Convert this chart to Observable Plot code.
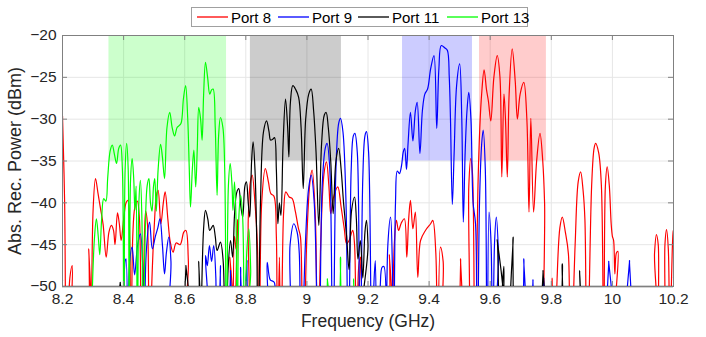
<!DOCTYPE html>
<html><head><meta charset="utf-8">
<script src="https://cdn.jsdelivr.net/npm/d3@7"></script>
<script src="https://cdn.jsdelivr.net/npm/@observablehq/plot@0.6"></script>
<style>
body{margin:0;background:#fff;}
#wrap{position:relative;width:706px;height:337px;font-family:"Liberation Sans",Arial,sans-serif;}
#legend{position:absolute;left:191px;top:7px;width:337px;height:20px;border:1px solid #a0a0a0;background:#fff;font-size:15px;color:#000;box-sizing:border-box;}
#legend .it{position:absolute;top:0;height:18px;display:flex;align-items:center;white-space:nowrap;}
#legend svg{margin-right:2px;}
</style></head>
<body><div id="wrap"><div id="legend"></div></div>
<script>
const xTicks = [8.2, 8.4, 8.6, 8.8, 9, 9.2, 9.4, 9.6, 9.8, 10, 10.2];
const yTicks = [-50, -45, -40, -35, -30, -25, -20];
const portNames = ["Port 8", "Port 9", "Port 11", "Port 13"];
const portColors = ["#ff0000", "#0000ff", "#000000", "#00ff00"];

const bandPort = ["Port 13", "Port 11", "Port 9", "Port 8"];
const bandStart = [8.352, 8.815, 9.313, 9.565];
const bandEnd = [8.737, 9.113, 9.542, 9.784];
const bandLow = [-35, -35, -35, -35];
const bandHigh = [-20, -20, -20, -20];

const port8 = [[8.200,-29.6],[8.207,-40],[8.213,-62],[8.224,-49],[8.232,-47.5],[8.241,-62],[8.280,-62],[8.286,-45.5],[8.292,-62],[8.300,-41],[8.308,-37.1],[8.316,-38.8],[8.324,-40.6],[8.333,-42.6],[8.343,-46.5],[8.352,-43.5],[8.360,-42.7],[8.367,-43.3],[8.372,-45],[8.380,-41.2],[8.386,-42.5],[8.392,-44.5],[8.400,-42],[8.408,-40],[8.414,-39.7],[8.420,-44],[8.424,-62],[8.430,-44],[8.437,-40.5],[8.445,-39.8],[8.452,-42],[8.458,-62],[8.466,-48],[8.472,-41],[8.478,-42.5],[8.484,-62],[8.492,-50],[8.500,-43],[8.508,-39],[8.513,-38.5],[8.522,-42.5],[8.530,-40],[8.536,-38.7],[8.545,-42],[8.552,-44.5],[8.562,-45.9],[8.572,-44.8],[8.585,-45],[8.597,-43.5],[8.604,-43.3],[8.612,-47],[8.618,-62],[8.740,-62],[8.748,-46.5],[8.756,-62],[8.763,-44],[8.768,-45.5],[8.773,-42],[8.780,-62],[8.800,-62],[8.808,-42],[8.815,-37.5],[8.821,-36.7],[8.830,-40],[8.838,-45],[8.844,-62],[8.852,-40],[8.864,-35.9],[8.874,-37.5],[8.882,-38.9],[8.892,-39.2],[8.900,-44],[8.903,-62],[8.910,-46.5],[8.915,-62],[8.924,-41],[8.931,-38.7],[8.942,-39.3],[8.952,-39.5],[8.962,-41],[8.972,-43],[8.979,-44.1],[8.986,-62],[9.000,-44],[9.010,-37.5],[9.017,-36.1],[9.028,-42],[9.035,-62],[9.045,-45],[9.056,-36.5],[9.064,-35.1],[9.072,-38],[9.078,-41.3],[9.086,-39.5],[9.101,-38.1],[9.112,-40.5],[9.122,-43],[9.130,-44.9],[9.138,-44.5],[9.150,-43.3],[9.156,-45],[9.162,-62],[9.170,-47.5],[9.176,-46.5],[9.182,-62],[9.262,-62],[9.270,-46.2],[9.276,-62],[9.286,-45],[9.293,-42.1],[9.300,-43.3],[9.309,-42.4],[9.319,-41.9],[9.327,-46.5],[9.333,-42],[9.339,-39.7],[9.347,-43.1],[9.355,-41.1],[9.363,-48.9],[9.372,-44.5],[9.388,-43.3],[9.405,-42.5],[9.412,-42.1],[9.422,-46],[9.428,-62],[9.437,-45.3],[9.446,-47],[9.452,-62],[9.495,-62],[9.503,-46.7],[9.509,-62],[9.520,-62],[9.530,-38],[9.536,-34.7],[9.542,-36.5],[9.550,-62],[9.560,-38],[9.566,-31],[9.572,-27],[9.580,-24.1],[9.588,-26.5],[9.594,-27.8],[9.602,-30.2],[9.612,-25],[9.623,-22.4],[9.632,-25],[9.638,-36.9],[9.645,-27],[9.650,-30],[9.656,-36.9],[9.662,-27],[9.672,-21.6],[9.682,-25.5],[9.689,-30],[9.698,-27],[9.710,-25.6],[9.720,-30],[9.727,-41.1],[9.733,-29.9],[9.742,-41.1],[9.752,-35],[9.763,-31.7],[9.772,-35],[9.778,-40],[9.786,-62],[9.796,-62],[9.803,-49],[9.808,-62],[9.818,-50],[9.828,-43],[9.836,-41.7],[9.846,-43.5],[9.856,-46.1],[9.862,-62],[9.878,-45],[9.888,-37.5],[9.896,-36.3],[9.904,-38.5],[9.910,-42],[9.917,-62],[9.932,-38],[9.940,-33.5],[9.945,-32.9],[9.955,-34],[9.964,-38],[9.972,-62],[9.977,-38],[9.983,-35.7],[9.990,-38],[9.996,-42.5],[10.000,-44],[10.004,-44.5],[10.008,-48.5],[10.013,-46],[10.018,-45.8],[10.024,-62],[10.130,-62],[10.138,-46],[10.144,-43.8],[10.150,-45],[10.158,-62],[10.165,-62],[10.172,-45],[10.177,-43.2],[10.183,-45.5],[10.188,-62],[10.193,-50],[10.199,-43.4],[10.200,-43.3]];

const port9 = [[8.398,-62],[8.405,-47],[8.408,-46.7],[8.414,-62],[8.420,-47],[8.428,-45.3],[8.436,-48.6],[8.446,-45],[8.455,-43.7],[8.462,-47],[8.466,-62],[8.474,-46],[8.485,-42.3],[8.494,-45.5],[8.504,-44],[8.512,-43],[8.519,-41.9],[8.527,-45],[8.534,-48.5],[8.540,-46],[8.548,-44.1],[8.555,-47],[8.560,-62],[8.660,-62],[8.668,-46.3],[8.674,-47.5],[8.681,-45.1],[8.688,-47],[8.695,-45.1],[8.702,-49],[8.706,-62],[8.710,-62],[8.717,-47.5],[8.724,-62],[8.744,-62],[8.750,-48.1],[8.756,-62],[8.776,-62],[8.783,-47.7],[8.790,-62],[8.797,-62],[8.804,-46.9],[8.810,-62],[8.860,-62],[8.870,-47.1],[8.880,-49.2],[8.893,-49.5],[8.900,-62],[8.935,-62],[8.945,-45],[8.957,-42.5],[8.968,-43.5],[8.975,-46],[8.980,-62],[8.995,-45],[9.005,-38.5],[9.014,-36.7],[9.024,-40],[9.039,-62],[9.050,-38],[9.060,-33.5],[9.066,-32.9],[9.075,-36],[9.085,-62],[9.095,-36],[9.104,-30.5],[9.110,-29.9],[9.118,-31.5],[9.128,-40],[9.136,-62],[9.145,-36],[9.152,-32],[9.157,-31.7],[9.165,-34],[9.174,-62],[9.183,-37],[9.190,-32],[9.195,-31.5],[9.202,-34],[9.213,-62],[9.219,-50],[9.224,-46.9],[9.230,-62],[9.240,-50],[9.246,-47.7],[9.252,-47.6],[9.258,-62],[9.265,-45],[9.274,-41.7],[9.280,-48],[9.284,-62],[9.290,-40],[9.296,-36.2],[9.303,-36.5],[9.310,-35.5],[9.315,-34],[9.320,-33.5],[9.326,-36],[9.331,-33],[9.339,-29.2],[9.347,-32.6],[9.355,-29],[9.361,-28],[9.370,-34.1],[9.378,-29],[9.386,-27],[9.395,-26.4],[9.405,-24],[9.416,-22.4],[9.425,-31.1],[9.432,-24],[9.440,-21.2],[9.452,-21.5],[9.460,-21.8],[9.466,-25],[9.470,-30],[9.476,-40.2],[9.482,-34],[9.490,-26],[9.500,-23.4],[9.507,-30],[9.512,-42.3],[9.518,-34],[9.524,-29],[9.530,-26.8],[9.537,-30],[9.544,-40],[9.552,-42.5],[9.557,-62],[9.565,-40],[9.572,-33],[9.577,-31.3],[9.584,-36],[9.590,-62],[9.596,-41.1],[9.603,-45],[9.608,-62],[9.614,-45],[9.620,-41.7],[9.627,-46],[9.633,-62],[9.700,-62],[9.710,-46.7],[9.720,-62],[9.735,-62],[9.740,-49.2],[9.745,-62],[9.770,-62],[9.775,-49],[9.780,-62],[9.980,-62],[9.988,-47],[9.996,-62],[10.048,-62],[10.056,-46.9],[10.064,-62],[10.192,-62],[10.200,-48.9]];

const port11 = [[8.200,-49.3],[8.206,-62],[8.384,-62],[8.389,-49.5],[8.394,-62],[8.598,-62],[8.604,-47.5],[8.610,-62],[8.640,-62],[8.646,-47],[8.652,-62],[8.656,-50],[8.662,-43],[8.668,-40.9],[8.676,-42],[8.682,-43.3],[8.693,-42.7],[8.700,-44],[8.706,-45.7],[8.717,-44.7],[8.726,-47],[8.733,-62],[8.742,-48],[8.750,-44.5],[8.757,-46.5],[8.763,-41.5],[8.770,-38.8],[8.777,-38.3],[8.784,-40.5],[8.790,-41.7],[8.797,-38],[8.802,-37.5],[8.808,-40],[8.813,-41.7],[8.819,-35],[8.824,-32.7],[8.830,-36],[8.836,-45],[8.840,-62],[8.848,-40],[8.858,-31.5],[8.868,-30.2],[8.876,-31.5],[8.881,-32.5],[8.888,-32.4],[8.894,-32.2],[8.900,-36],[8.905,-42.5],[8.910,-40],[8.915,-41.5],[8.922,-33],[8.930,-27.6],[8.937,-31],[8.941,-34.5],[8.946,-28],[8.954,-26],[8.964,-26.5],[8.973,-27.4],[8.981,-31],[8.988,-38.3],[8.996,-30],[9.006,-27],[9.014,-26.4],[9.022,-29],[9.030,-34],[9.039,-42.7],[9.048,-33],[9.057,-29.5],[9.063,-29.2],[9.070,-31],[9.078,-35],[9.086,-41.3],[9.095,-35],[9.104,-33.5],[9.112,-36],[9.120,-40],[9.130,-44],[9.138,-48],[9.146,-41],[9.156,-39.3],[9.162,-42],[9.167,-46.7],[9.175,-44.5],[9.183,-49],[9.190,-43.5],[9.195,-42.1],[9.200,-45],[9.206,-62],[9.614,-62],[9.623,-44.4],[9.634,-62],[9.640,-50],[9.645,-47.6],[9.652,-62],[9.663,-62],[9.675,-44.1],[9.687,-62],[9.766,-62],[9.773,-48.1],[9.780,-62],[9.822,-62],[9.836,-47.3],[9.850,-62],[9.884,-62],[9.893,-48.1],[9.902,-62]];

const port13 = [[8.292,-62],[8.298,-50],[8.305,-44],[8.311,-41.9],[8.317,-44],[8.322,-46.2],[8.328,-42],[8.335,-39.5],[8.342,-39.8],[8.348,-37],[8.356,-33.8],[8.363,-33.1],[8.370,-34.2],[8.377,-35.3],[8.384,-33.5],[8.390,-33.1],[8.396,-36],[8.401,-62],[8.405,-36],[8.410,-32.9],[8.415,-36],[8.418,-62],[8.423,-37],[8.428,-34.7],[8.433,-37],[8.437,-40.9],[8.441,-38],[8.445,-62],[8.450,-40],[8.455,-37.3],[8.460,-42],[8.463,-62],[8.470,-45],[8.477,-38],[8.483,-37.1],[8.488,-40],[8.493,-41],[8.498,-38],[8.502,-37.1],[8.507,-41],[8.513,-36],[8.521,-33],[8.527,-34.5],[8.534,-37.1],[8.542,-31],[8.551,-29.2],[8.559,-31],[8.567,-32],[8.575,-31],[8.581,-30.8],[8.588,-30.5],[8.596,-27.5],[8.603,-26],[8.610,-30],[8.615,-36],[8.619,-40.5],[8.625,-36],[8.630,-33.7],[8.636,-38.1],[8.641,-33.7],[8.646,-28.6],[8.652,-30],[8.657,-32.5],[8.662,-27],[8.668,-23.2],[8.675,-25],[8.682,-27],[8.688,-26.5],[8.693,-26.4],[8.700,-31],[8.706,-39.1],[8.711,-32],[8.717,-29.8],[8.725,-31],[8.731,-36],[8.737,-62],[8.743,-38],[8.749,-35.3],[8.755,-38],[8.758,-40.9],[8.763,-37.5],[8.768,-42],[8.772,-62],[8.777,-42],[8.783,-39.1],[8.790,-42],[8.796,-62],[8.803,-46],[8.810,-43.1],[8.816,-48],[8.820,-62],[9.060,-62],[9.067,-49.1],[9.074,-62],[9.098,-62],[9.110,-46.5],[9.122,-62],[9.147,-62],[9.153,-49.1],[9.160,-62]];

const seriesData = [port8, port9, port11, port13];
const rows = seriesData.flatMap((s, i) => s.map(([f, p]) => ({port: portNames[i], f, p})));
const bands = bandPort.map((port, i) => ({port, x1: bandStart[i], x2: bandEnd[i], y1: bandLow[i], y2: bandHigh[i]}));

const W = 706, H = 337, mT = 35, mB = 51, mL = 62, mR = 33;
const innerW = W - mL - mR, innerH = H - mT - mB;
const axisCol = "#808080";

const chart = Plot.plot({
  width: W, height: H, marginTop: mT, marginBottom: mB, marginLeft: mL, marginRight: mR,
  style: {fontFamily: '"Liberation Sans", Arial, sans-serif', fontSize: "15px", color: "#262626", background: "transparent"},
  x: {domain: [8.2, 10.2]},
  y: {domain: [-50, -20]},
  color: {domain: portNames, range: portColors},
  marks: [
    Plot.gridX(xTicks, {stroke: "#e6e6e6", strokeOpacity: 1}),
    Plot.gridY(yTicks, {stroke: "#e6e6e6", strokeOpacity: 1}),
    Plot.rect(bands, {x1: "x1", x2: "x2", y1: "y1", y2: "y2", fill: "port", fillOpacity: 0.2}),
    Plot.ruleY([-50], {stroke: "#c4c4c4", strokeWidth: 2.5}),
    Plot.line(rows, {x: "f", y: "p", z: "port", stroke: "port", strokeWidth: 1.2, curve: "catmull-rom", clip: true}),
    Plot.frame({stroke: axisCol}),
    Plot.tickX(xTicks, {x: d => d, insetBottom: innerH - 5, stroke: axisCol}),
    Plot.tickX(xTicks, {x: d => d, insetTop: innerH - 5, stroke: axisCol}),
    Plot.tickY(yTicks, {y: d => d, insetLeft: innerW - 5, stroke: axisCol}),
    Plot.tickY(yTicks, {y: d => d, insetRight: innerW - 5, stroke: axisCol}),
    Plot.axisX(xTicks, {tickSize: 0, tickPadding: 6, fontSize: 15.5, label: null, tickFormat: d => String(d)}),
    Plot.axisY(yTicks, {tickSize: 0, tickPadding: 6, fontSize: 15.5, label: null}),
    Plot.text(["Frequency (GHz)"], {frameAnchor: "bottom", dy: 40, fontSize: 17.5, fill: "#262626"}),
    Plot.text(["Abs. Rec. Power (dBm)"], {frameAnchor: "left", textAnchor: "middle", dx: -47, rotate: -90, fontSize: 18, fill: "#262626"})
  ]
});
const wrap = document.getElementById("wrap");
wrap.insertBefore(chart, wrap.firstChild);
chart.style.position = "absolute"; chart.style.left = "0"; chart.style.top = "0";

const legend = document.getElementById("legend");
const legendOffsets = [4, 85, 165, 254];
portNames.forEach((name, i) => {
  const it = document.createElement("div");
  it.className = "it";
  it.style.left = legendOffsets[i] + "px";
  it.innerHTML = `<svg width="33" height="10"><line x1="1" y1="5" x2="32" y2="5" stroke="${portColors[i]}" stroke-width="1.3"/></svg><span>${name}</span>`;
  legend.appendChild(it);
});
</script></body></html>
